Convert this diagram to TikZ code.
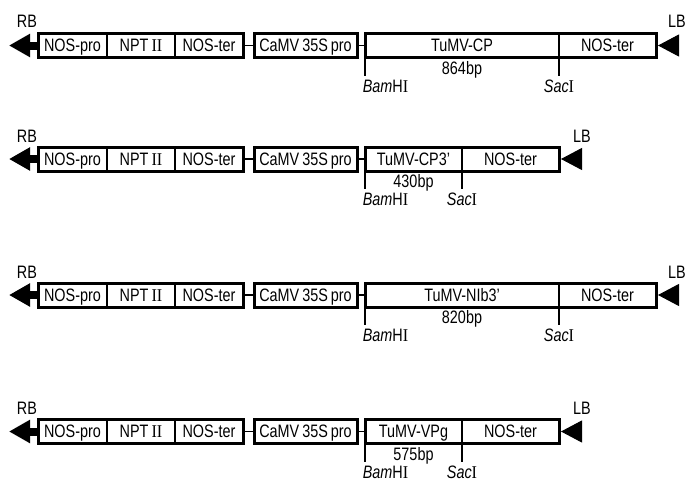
\documentclass[tikz,border=0pt]{standalone}
\usepackage{fontspec}
\setmainfont[FakeStretch=0.8]{Liberation Sans}
\newfontfamily\romfont[FakeStretch=0.9]{Liberation Serif}
\usetikzlibrary{positioning,arrows.meta}

\begin{document}
\begin{tikzpicture}[
        x=1pt, y=-1pt,
        font=\fontsize{18pt}{21pt}\selectfont,
        % Стиль для блоков кассеты
        part/.style={
            draw,
            line width=1.6pt,
            minimum height=24pt,
            inner sep=0pt, outer sep=0pt,
            text height=12.9pt, text depth=0pt
        },
        % Толстая рамка вокруг группы блоков
        frame/.style={line width=3pt},
        % Тонкие соединительные линии
        link/.style={line width=1.5pt},
        % Сайты рестрикции и подписи
        site/.style={line width=1.6pt},
        site label/.style={
            inner sep=0pt, anchor=north, yshift=-3pt,
            text height=12.9pt, text depth=0pt
        },
        bp label/.style={inner sep=0pt, text height=12.5pt, text depth=3pt},
        % Границы T-ДНК
        border label/.style={inner sep=0pt},
        rb arrow/.style={line width=8pt, -{Triangle[length=21pt, width=22pt]}},
        lb arrow/.style={line width=1pt, shorten >=2pt, -{Triangle[length=21pt, width=22pt]}}
    ]

        \useasboundingbox (0,0) rectangle (689,483);

        % Кассета 1: TuMV-CP
        \node[part, minimum width=69pt, anchor=west] (nospro1) at (38,45.5) {NOS-pro};
        \node[part, minimum width=68pt, right=0pt of nospro1] (npt1) {NPT\,{\romfont II}};
        \node[part, minimum width=68pt, right=0pt of npt1] (nos1) {NOS-ter};
        \node[part, minimum width=103pt, right=11pt of nos1] (camv1) {CaMV\,35S\,pro};
        \node[part, minimum width=194pt, right=8pt of camv1] (ins1) {TuMV-CP};
        \node[part, minimum width=97pt, right=0pt of ins1] (ter1) {NOS-ter};
        \draw[frame] (nospro1.north west) rectangle (nos1.south east);
        \draw[frame] (camv1.north west) rectangle (camv1.south east);
        \draw[frame] (ins1.north west) rectangle (ter1.south east);
        \draw[link] (nos1) -- (camv1);
        \draw[link] (camv1) -- (ins1);
        \coordinate (rbtip1) at (9,45.5);
        \coordinate (lbend1) at (676,45.5);
        \draw[rb arrow] (nospro1.west) -- (rbtip1);
        \draw[lb arrow] (lbend1) -- (ter1.east);
        \node[border label] (rb1) at (27,21.5) {RB};
        \node[border label] (lb1) at (677,21.5) {LB};
        \draw[site] (ins1.south west) -- ++(0,18) node[site label, anchor=north west, xshift=-3pt] (bam1) {\textit{Bam}H{\romfont I}};
        \draw[site] (ter1.south west) -- ++(0,18) node[site label] (sac1) {\textit{Sac}{\romfont I}};
        \node[bp label, below=4pt of ins1] (bp1) {864bp};

        % Кассета 2: TuMV-CP3'
        \node[part, minimum width=69pt, anchor=west] (nospro2) at (38,159) {NOS-pro};
        \node[part, minimum width=68pt, right=0pt of nospro2] (npt2) {NPT\,{\romfont II}};
        \node[part, minimum width=68pt, right=0pt of npt2] (nos2) {NOS-ter};
        \node[part, minimum width=103pt, right=11pt of nos2] (camv2) {CaMV\,35S\,pro};
        \node[part, minimum width=97pt, right=8pt of camv2] (ins2) {TuMV-CP3'};
        \node[part, minimum width=97pt, right=0pt of ins2] (ter2) {NOS-ter};
        \draw[frame] (nospro2.north west) rectangle (nos2.south east);
        \draw[frame] (camv2.north west) rectangle (camv2.south east);
        \draw[frame] (ins2.north west) rectangle (ter2.south east);
        \draw[link] (nos2) -- (camv2);
        \draw[link] (camv2) -- (ins2);
        \coordinate (rbtip2) at (9,159);
        \coordinate (lbend2) at (579,159);
        \draw[rb arrow] (nospro2.west) -- (rbtip2);
        \draw[lb arrow] (lbend2) -- (ter2.east);
        \node[border label] (rb2) at (27,136) {RB};
        \node[border label] (lb2) at (582,136) {LB};
        \draw[site] (ins2.south west) -- ++(0,18) node[site label, anchor=north west, xshift=-3pt] (bam2) {\textit{Bam}H{\romfont I}};
        \draw[site] (ter2.south west) -- ++(0,18) node[site label] (sac2) {\textit{Sac}{\romfont I}};
        \node[bp label, below=4pt of ins2] (bp2) {430bp};

        % Кассета 3: TuMV-NIb3'
        \node[part, minimum width=69pt, anchor=west] (nospro3) at (38,295) {NOS-pro};
        \node[part, minimum width=68pt, right=0pt of nospro3] (npt3) {NPT\,{\romfont II}};
        \node[part, minimum width=68pt, right=0pt of npt3] (nos3) {NOS-ter};
        \node[part, minimum width=103pt, right=11pt of nos3] (camv3) {CaMV\,35S\,pro};
        \node[part, minimum width=194pt, right=8pt of camv3] (ins3) {TuMV-NIb3'};
        \node[part, minimum width=97pt, right=0pt of ins3] (ter3) {NOS-ter};
        \draw[frame] (nospro3.north west) rectangle (nos3.south east);
        \draw[frame] (camv3.north west) rectangle (camv3.south east);
        \draw[frame] (ins3.north west) rectangle (ter3.south east);
        \draw[link] (nos3) -- (camv3);
        \draw[link] (camv3) -- (ins3);
        \coordinate (rbtip3) at (9,295);
        \coordinate (lbend3) at (676,295);
        \draw[rb arrow] (nospro3.west) -- (rbtip3);
        \draw[lb arrow] (lbend3) -- (ter3.east);
        \node[border label] (rb3) at (27,272) {RB};
        \node[border label] (lb3) at (677,272) {LB};
        \draw[site] (ins3.south west) -- ++(0,18) node[site label, anchor=north west, xshift=-3pt] (bam3) {\textit{Bam}H{\romfont I}};
        \draw[site] (ter3.south west) -- ++(0,18) node[site label] (sac3) {\textit{Sac}{\romfont I}};
        \node[bp label, below=4pt of ins3] (bp3) {820bp};

        % Кассета 4: TuMV-VPg
        \node[part, minimum width=69pt, anchor=west] (nospro4) at (38,431.5) {NOS-pro};
        \node[part, minimum width=68pt, right=0pt of nospro4] (npt4) {NPT\,{\romfont II}};
        \node[part, minimum width=68pt, right=0pt of npt4] (nos4) {NOS-ter};
        \node[part, minimum width=103pt, right=11pt of nos4] (camv4) {CaMV\,35S\,pro};
        \node[part, minimum width=97pt, right=8pt of camv4] (ins4) {TuMV-VPg};
        \node[part, minimum width=97pt, right=0pt of ins4] (ter4) {NOS-ter};
        \draw[frame] (nospro4.north west) rectangle (nos4.south east);
        \draw[frame] (camv4.north west) rectangle (camv4.south east);
        \draw[frame] (ins4.north west) rectangle (ter4.south east);
        \draw[link] (nos4) -- (camv4);
        \draw[link] (camv4) -- (ins4);
        \coordinate (rbtip4) at (9,431.5);
        \coordinate (lbend4) at (579,431.5);
        \draw[rb arrow] (nospro4.west) -- (rbtip4);
        \draw[lb arrow] (lbend4) -- (ter4.east);
        \node[border label] (rb4) at (27,408) {RB};
        \node[border label] (lb4) at (582,408) {LB};
        \draw[site] (ins4.south west) -- ++(0,18) node[site label, anchor=north west, xshift=-3pt] (bam4) {\textit{Bam}H{\romfont I}};
        \draw[site] (ter4.south west) -- ++(0,18) node[site label] (sac4) {\textit{Sac}{\romfont I}};
        \node[bp label, below=4pt of ins4] (bp4) {575bp};

    \end{tikzpicture}
\end{document}
